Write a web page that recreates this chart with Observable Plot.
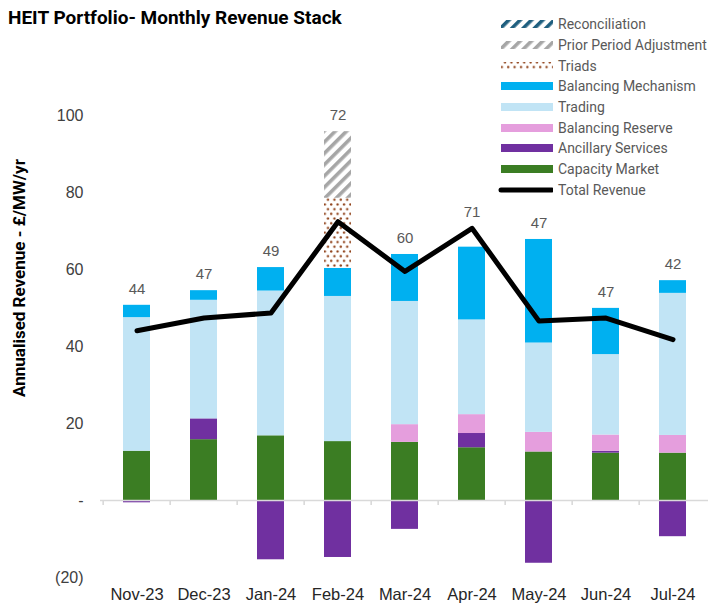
<!DOCTYPE html>
<html>
<head>
<meta charset="utf-8">
<script src="https://cdn.jsdelivr.net/npm/d3@7"></script>
<script src="https://cdn.jsdelivr.net/npm/@observablehq/plot@0.6"></script>
<style>
  html, body { margin: 0; padding: 0; background: #fff; }
  #wrap { position: relative; width: 708px; height: 607px; overflow: hidden; }
  #chart { position: absolute; left: 0; top: 0; }
  #title { position: absolute; left: 8px; top: 6px; font: 700 19px Roboto, sans-serif; color: #000; white-space: nowrap; }
  #ylabel { position: absolute; left: 19px; top: 278px; font: 700 17px Roboto, sans-serif; color: #000; white-space: nowrap;
            transform: translate(-50%, -50%) rotate(-90deg); transform-origin: center; }
  #legend { position: absolute; left: 497px; top: 14px; font: 400 14px Roboto, sans-serif; color: #595959; }
  .item { display: flex; align-items: center; height: 20.7px; white-space: nowrap; }
  .item svg { margin-right: 5px; }
</style>
</head>
<body>
<svg width="0" height="0" style="position:absolute">
  <defs>
    <pattern id="pat-recon" patternUnits="userSpaceOnUse" width="8" height="8" patternTransform="rotate(45)">
      <rect width="8" height="8" fill="#fff"/>
      <rect width="3.6" height="8" fill="#1f5f7f"/>
    </pattern>
    <pattern id="pat-ppa" patternUnits="userSpaceOnUse" width="8" height="8" patternTransform="rotate(45)">
      <rect width="8" height="8" fill="#fff"/>
      <rect width="3.6" height="8" fill="#a6a6a6"/>
    </pattern>
    <pattern id="pat-triads" patternUnits="userSpaceOnUse" width="6.4" height="9.4">
      <rect width="6.4" height="9.4" fill="#fff"/>
      <circle cx="1.6" cy="2.3" r="1.15" fill="#8e3f16"/>
      <circle cx="4.8" cy="7.0" r="1.15" fill="#8e3f16"/>
    </pattern>
  </defs>
</svg>
<div id="wrap">
  <div id="chart"></div>
  <div id="title">HEIT Portfolio- Monthly Revenue Stack</div>
  <div id="ylabel">Annualised Revenue - £/MW/yr</div>
  <div id="legend"></div>
</div>
<script>
// ---- Data ----
const months = ["Nov-23", "Dec-23", "Jan-24", "Feb-24", "Mar-24", "Apr-24", "May-24", "Jun-24", "Jul-24"];
const capacityMarket      = [12.8, 15.8, 16.8, 15.3, 15.1, 13.7, 12.6, 12.3, 12.3];
const ancillaryServices   = [-0.6, 5.4, -15.4, -14.8, -7.5, 3.7, -16.3, 0.5, -9.4];
const balancingReserve    = [0, 0, 0, 0, 4.6, 4.9, 5.1, 4.2, 4.6];
const trading             = [34.7, 30.8, 37.6, 37.7, 32.0, 24.6, 23.2, 20.9, 36.9];
const balancingMechanism  = [3.2, 2.5, 6.1, 7.3, 12.2, 18.9, 26.9, 12.0, 3.3];
const triads              = [0, 0, 0, 18.2, 0, 0, 0, 0, 0];
const priorPeriodAdj      = [0, 0, 0, 17.3, 0, 0, 0, 0, 0];
const reconciliation      = [0, 0, 0, 0, 0, 0, 0, 0, 0];
const totalRevenue        = [44.1, 47.4, 48.7, 72.4, 59.5, 70.7, 46.6, 47.4, 41.8];
const yTicks = [-20, 0, 20, 40, 60, 80, 100];

const seriesNames = ["Capacity Market", "Ancillary Services", "Balancing Reserve", "Trading",
  "Balancing Mechanism", "Triads", "Prior Period Adjustment", "Reconciliation"];
const seriesValues = [capacityMarket, ancillaryServices, balancingReserve, trading,
  balancingMechanism, triads, priorPeriodAdj, reconciliation];
const seriesFills = ["#3b7d23", "#7030a0", "#e59edd", "#c1e4f5", "#00b0f0",
  "url(#pat-triads)", "url(#pat-ppa)", "url(#pat-recon)"];

// Long table for the stacked bars
const rows = [];
seriesNames.forEach((s, i) => months.forEach((m, j) => {
  if (seriesValues[i][j] !== 0) rows.push({month: m, series: s, value: seriesValues[i][j]});
}));
const totals = months.map((m, j) => ({
  month: m,
  total: totalRevenue[j],
  labelAt: Math.max(totalRevenue[j], d3.sum(seriesValues, v => Math.max(0, v[j])))
}));

const W = 708, H = 607, mL = 100, mR = -1, mT = 115, mB = 30;
const step = (W - mL - mR) / months.length;

const chart = Plot.plot({
  width: W, height: H,
  marginLeft: mL, marginRight: mR, marginTop: mT, marginBottom: mB,
  style: {fontFamily: "'Liberation Sans', Arial, sans-serif", background: "transparent", overflow: "visible"},
  x: {domain: months, paddingInner: 0.6, paddingOuter: 0.3, label: null},
  y: {domain: [-20, 100], label: null},
  color: {type: "ordinal", domain: seriesNames, range: seriesFills},
  marks: [
    Plot.barY(rows, Plot.stackY({x: "month", y: "value", fill: "series", order: seriesNames})),
    Plot.ruleY([0], {stroke: "#d9d9d9", strokeWidth: 1.6}),
    Plot.ruleX(months, {x: d => d, y1: 0, y2: 0, insetBottom: -5, dx: -step / 2, stroke: "#d9d9d9", strokeWidth: 1.6}),
    Plot.line(totals, {x: "month", y: "total", stroke: "#000", strokeWidth: 5, strokeLinejoin: "round", strokeLinecap: "round"}),
    Plot.text(totals, {x: "month", y: "labelAt", text: d => d3.format(".0f")(d.total), dy: -16, fill: "#595959", fontSize: 15}),
    Plot.axisY({ticks: yTicks, tickSize: 0, tickPadding: 17, fontSize: 16, fill: "#404040",
      tickFormat: d => d === 0 ? "-" : d < 0 ? `(${-d})` : `${d}`}),
    Plot.axisX({tickSize: 0, tickPadding: 11, fontSize: 16.5, fill: "#262626"})
  ]
});
document.getElementById("chart").appendChild(chart);

// Legend
const legendItems = [
  {name: "Reconciliation", fill: "url(#pat-recon)"},
  {name: "Prior Period Adjustment", fill: "url(#pat-ppa)"},
  {name: "Triads", fill: "url(#pat-triads)"},
  {name: "Balancing Mechanism", fill: "#00b0f0"},
  {name: "Trading", fill: "#c1e4f5"},
  {name: "Balancing Reserve", fill: "#e59edd"},
  {name: "Ancillary Services", fill: "#7030a0"},
  {name: "Capacity Market", fill: "#3b7d23"},
  {name: "Total Revenue", line: true}
];
const legend = d3.select("#legend");
legendItems.forEach(it => {
  const row = legend.append("div").attr("class", "item");
  const s = row.append("svg").attr("width", 56).attr("height", 12);
  if (it.line) {
    s.append("line").attr("x1", 4).attr("x2", 55).attr("y1", 6).attr("y2", 6)
      .attr("stroke", "#000").attr("stroke-width", 5).attr("stroke-linecap", "round");
  } else {
    s.append("rect").attr("x", 4).attr("y", 2).attr("width", 52).attr("height", 8).attr("fill", it.fill);
  }
  row.append("span").text(it.name);
});
</script>
</body>
</html>
